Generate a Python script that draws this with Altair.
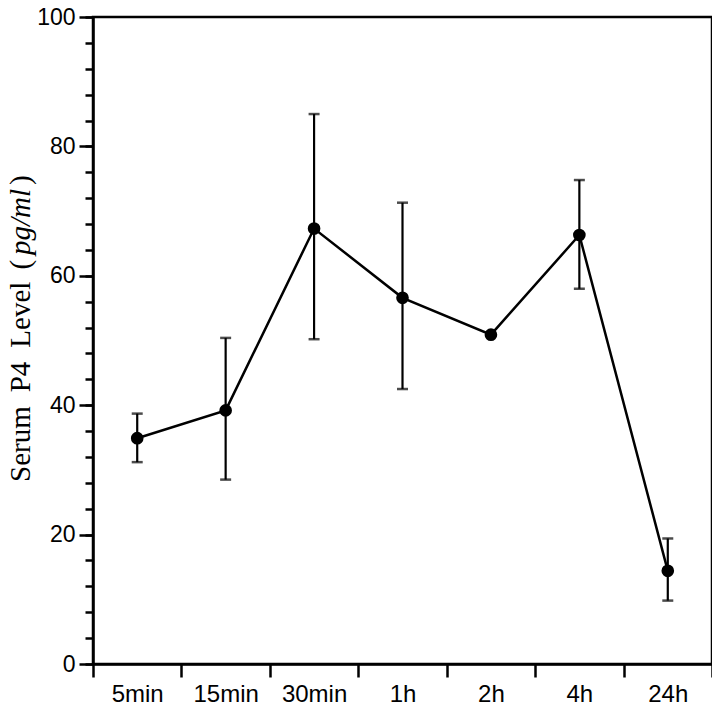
import altair as alt
import pandas as pd

times = ["5min", "15min", "30min", "1h", "2h", "4h", "24h"]
means = [34.9, 39.2, 67.3, 56.6, 50.9, 66.3, 14.4]
upper = [38.7, 50.4, 85.0, 71.3, 50.9, 74.8, 19.4]
lower = [31.2, 28.5, 50.2, 42.5, 50.9, 58.0, 9.8]
major_ticks = [0, 20, 40, 60, 80, 100]
minor_ticks = list(range(0, 101, 4))

df = pd.DataFrame({"time": times, "mean": means, "upper": upper, "lower": lower})

x_enc = alt.X(
    "time:N",
    sort=times,
    bandPosition=0.5,
    scale=alt.Scale(type="band", paddingInner=0, paddingOuter=0),
    axis=alt.Axis(
        title=None,
        labelAngle=0,
        labelFont="Liberation Sans",
        labelFontSize=24,
        labelColor="black",
        labelPadding=5,
        labelOverlap=False,
        tickBand="extent",
        tickSize=13,
        tickWidth=2.5,
        tickColor="black",
        domainWidth=2.5,
        domainColor="black",
        grid=False,
    ),
)

y_scale = alt.Scale(domain=[0, 100], nice=False)
major_axis = alt.Axis(
    title=None,
    orient="left",
    values=major_ticks,
    labelOverlap=False,
    labelFont="Liberation Sans",
    labelFontSize=23,
    labelColor="black",
    labelPadding=4,
    tickSize=14,
    tickWidth=2.5,
    tickColor="black",
    domainWidth=2.5,
    domainColor="black",
    grid=False,
)
minor_axis = alt.Axis(
    title=None,
    orient="left",
    values=minor_ticks,
    labels=False,
    domain=False,
    tickSize=8,
    tickWidth=2.5,
    tickColor="black",
    grid=False,
)

base = alt.Chart(df)
xc = alt.X("time:N", sort=times, bandPosition=0.5)

line = base.mark_line(color="black", strokeWidth=2.5).encode(
    x=x_enc, y=alt.Y("mean:Q", scale=y_scale, axis=major_axis)
)
bars = base.mark_rule(color="black", strokeWidth=2.2).encode(
    x=xc, y=alt.Y("lower:Q", axis=minor_axis), y2="upper:Q"
)
cap_top = base.mark_tick(color="black", size=11, thickness=2.5, orient="horizontal").encode(
    x=xc, y=alt.Y("upper:Q", axis=None)
)
cap_bot = base.mark_tick(color="black", size=11, thickness=2.5, orient="horizontal").encode(
    x=xc, y=alt.Y("lower:Q", axis=None)
)
pts = base.mark_circle(color="black", opacity=1, size=160).encode(
    x=xc, y=alt.Y("mean:Q", axis=None)
)

# y-axis title, set piece by piece so that "pg/ml" can be italic
title_font = "Liberation Serif"
fs = 29
pieces = [  # text, approx width in em (Times metrics), italic, gap after (px)
    ("Serum", 2.611, False, 14),
    ("P4", 1.056, False, 14),
    ("Level", 2.277, False, 12),
    ("(", 0.333, False, 5),
    ("pg/ml", 2.278, True, 4),
    (")", 0.333, False, 0),
]

top_pad = 9
title_layers = []
ypos = 482 - 8 - top_pad  # plot coordinates of the start of the title (bottom)
for text, w, italic, gap in pieces:
    kw = dict(angle=270, align="left", baseline="alphabetic", font=title_font,
              fontSize=fs, color="black")
    if italic:
        kw["fontStyle"] = "italic"
    title_layers.append(
        alt.Chart(pd.DataFrame({"t": [text]})).mark_text(**kw).encode(
            text="t:N", x=alt.value(-63), y=alt.value(ypos)
        )
    )
    ypos -= w * fs + gap

chart = (
    alt.layer(line, bars, cap_top, cap_bot, pts, *title_layers)
    .resolve_axis(y="independent")
    .properties(
        width=619,
        height=647,
        background="white",
        autosize=alt.AutoSizeParams(type="none"),
        padding={"left": 85, "top": top_pad, "right": 0, "bottom": 42},
    )
    .configure_axis(labelOverlap=False)
    .configure_view(stroke="black", strokeWidth=2.5)
)

chart.save("out.html", embed_options={"renderer": "svg", "actions": False})
